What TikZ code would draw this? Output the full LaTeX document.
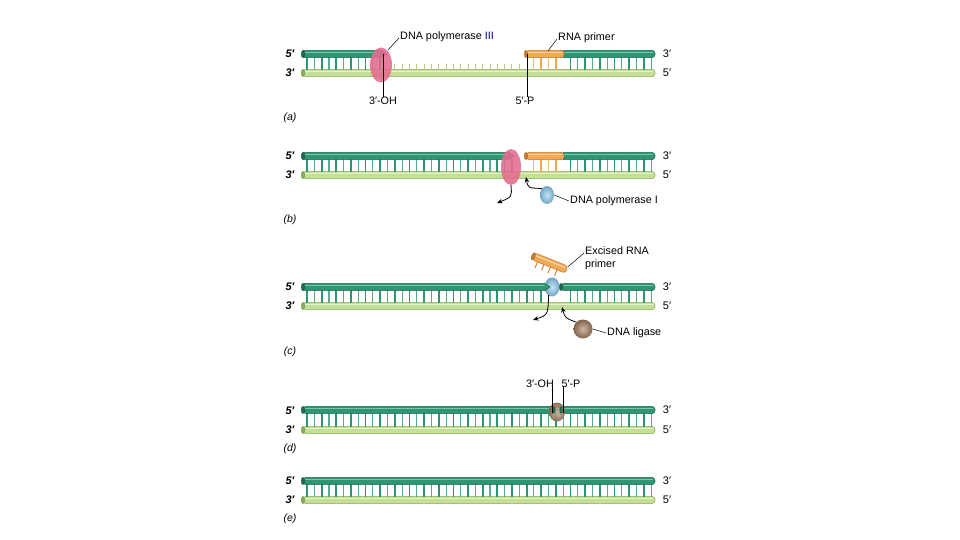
\documentclass[tikz,border=0pt]{standalone}
\usepackage{fontspec}
\setmainfont{Liberation Sans}
\usetikzlibrary{arrows.meta,shapes.geometric}
\definecolor{dkg}{HTML}{2E9672}
\definecolor{dkgE}{HTML}{1D6A4C}
\definecolor{dkgH}{HTML}{7CC7A4}
\definecolor{ltg}{HTML}{C3E096}
\definecolor{ltgE}{HTML}{86AE55}
\definecolor{ltgH}{HTML}{E6F3CE}
\definecolor{org}{HTML}{F2A955}
\definecolor{orgE}{HTML}{C77A2C}
\definecolor{orgH}{HTML}{F9D3A0}
\definecolor{pnk}{HTML}{E56A8F}
\definecolor{blu}{HTML}{84C3E8}
\definecolor{brn}{HTML}{A57C5D}
\definecolor{unp}{HTML}{B9CC82}
% strand with rounded right end: fill, edge, highlight, x1, x2, y
\newcommand\strandR[6]{%
  \path[fill=#1,draw=#2,line width=0.5pt,rounded corners=3pt] (#4,#6-3.6) rectangle (#5,#6+3.6);
  \draw[#3,line width=1.2pt,line cap=round] (#4+2,#6-1.5) -- (#5-2.5,#6-1.5);
  \path[fill=#2,draw=#2!80!black,line width=0.3pt] (#4,#6) ellipse (1.8 and 3.6);}
% strand with pointed right end
\newcommand\strandT[6]{%
  \path[fill=#1,draw=#2,line width=0.5pt] (#4,#6-3.6) -- (#5-5,#6-3.6) -- (#5,#6) -- (#5-5,#6+3.6) -- (#4,#6+3.6) -- cycle;
  \draw[#3,line width=1.2pt,line cap=round] (#4+2,#6-1.5) -- (#5-6,#6-1.5);
  \path[fill=#2,draw=#2!80!black,line width=0.3pt] (#4,#6) ellipse (1.8 and 3.6);}
% base ticks: xmin, xmax, ytop, ybot, colour
\newcommand\bases[5]{%
  \foreach \k in {0,...,47}{%
    \pgfmathsetmacro\xx{307+7.32*\k}%
    \pgfmathtruncatemacro\ok{((\xx>=#1)&&(\xx<=#2))?1:0}%
    \ifnum\ok=1
      \pgfmathtruncatemacro\odd{mod(\k,2)}%
      \ifnum\odd=0
        \draw[#5,line width=1.8pt] (\xx,#3+3) -- (\xx,#4-3.4);
      \else
        \draw[#5!80!white,line width=1.1pt] (\xx,#3+3) -- (\xx,#4-3.4);
      \fi
    \fi}}
% unpaired bases on the lower strand
\newcommand\unpaired[3]{%
  \foreach \k in {0,...,47}{%
    \pgfmathsetmacro\xx{307+7.32*\k}%
    \pgfmathtruncatemacro\ok{((\xx>=#1)&&(\xx<=#2))?1:0}%
    \ifnum\ok=1 \draw[unp,line width=1pt] (\xx,#3-3) -- (\xx,#3-8.5);\fi}}
\begin{document}
\begin{tikzpicture}[x=1pt,y=-1pt,
  font=\fontsize{10.8}{13}\selectfont,
  lbl/.style={inner sep=0pt},
  endlbl/.style={inner sep=0pt,font=\fontsize{11}{13}\selectfont},
  endlblL/.style={inner sep=0pt,font=\fontsize{11}{13}\selectfont\bfseries\itshape},
  plbl/.style={inner sep=0pt,font=\fontsize{10.5}{12}\selectfont\itshape},
  lead/.style={black,line width=0.5pt},
  endline/.style={black,line width=0.8pt},
  arr/.style={black,line width=0.8pt,-{Stealth[length=5.5pt,width=4.5pt]}},
  pinkblob/.style={ellipse,fill=pnk,opacity=0.88,inner sep=0pt},
  blueblob/.style={ellipse,inner color=blu!45!white,outer color=blu!85!black,inner sep=0pt},
  brownblob/.style={ellipse,inner color=brn!55!white,outer color=brn!80!black,inner sep=0pt}]
\useasboundingbox[fill=white] (0,0) rectangle (960,540);

% ---------------- (a) ----------------
\strandR{ltg}{ltgE}{ltgH}{303}{655}{73}
\bases{300}{383}{54}{73}{dkg}
\bases{528}{562}{54}{73}{org}
\bases{565}{655}{54}{73}{dkg}
\unpaired{388}{524}{73}
\strandT{dkg}{dkgE}{dkgH}{303}{387}{54}
\strandR{dkg}{dkgE}{dkgH}{561}{655}{54}
\strandR{org}{orgE}{orgH}{526}{564}{54}
\node[pinkblob,minimum width=22pt,minimum height=35pt] (pol3) at (381,65) {};
\coordinate (ohA) at (383,54);
\coordinate (pA) at (527,54);
\node[lbl] (ohAl) at (383,101) {3′-OH};
\node[lbl] (pAl) at (525,101) {5′-P};
\draw[endline] (ohA) -- (ohAl.north);
\draw[endline] (pA) -- (pAl.north -| pA);
\node[lbl,anchor=west] (pol3l) at (400,37) {DNA polymerase \textcolor{blue!60!black}{III}};
\node[lbl,anchor=west] (rnal) at (558,38) {RNA primer};
\coordinate (pol3t) at (388,50);
\coordinate (rnat) at (548,51);
\draw[lead] (pol3l.west) ++(-1,1) -- (pol3t);
\draw[lead] (rnal.west) ++(-1,1) -- (rnat);
\node[endlblL] (a5) at (290,54) {5′};
\node[endlblL] (a3) at (290,73) {3′};
\node[endlbl] (a3r) at (667,54) {3′};
\node[endlbl] (a5r) at (667,73) {5′};
\node[plbl] (pa) at (290,118) {(a)};

% ---------------- (b) ----------------
\strandR{ltg}{ltgE}{ltgH}{303}{655}{175}
\bases{300}{518}{156}{175}{dkg}
\bases{528}{562}{156}{175}{org}
\bases{565}{655}{156}{175}{dkg}
\strandT{dkg}{dkgE}{dkgH}{303}{514}{156}
\strandR{dkg}{dkgE}{dkgH}{561}{655}{156}
\strandR{org}{orgE}{orgH}{526}{564}{156}
\node[pinkblob,minimum width=20pt,minimum height=36pt] (pol3b) at (511,167) {};
\node[blueblob,minimum width=14pt,minimum height=18pt] (pol1) at (547,195) {};
\coordinate (gapb) at (526,177);
\coordinate (outb) at (497,203);
\draw[arr] (pol3b.south) .. controls (512,197) .. (outb);
\draw[arr] (pol1.north west) .. controls (528,188) .. (gapb);
\node[lbl,anchor=west] (pol1l) at (570,201) {DNA polymerase I};
\draw[lead] (pol1l.west) ++(-1,0) -- (pol1.east);
\node[endlblL] (b5) at (290,156) {5′};
\node[endlblL] (b3) at (290,175) {3′};
\node[endlbl] (b3r) at (667,156) {3′};
\node[endlbl] (b5r) at (667,175) {5′};
\node[plbl] (pb) at (290,220) {(b)};

% ---------------- (c) ----------------
\strandR{ltg}{ltgE}{ltgH}{303}{655}{306}
\bases{300}{546}{287}{306}{dkg}
\bases{565}{655}{287}{306}{dkg}
\node[blueblob,minimum width=15pt,minimum height=19pt] (pol1c) at (552,287) {};
\strandT{dkg}{dkgE}{dkgH}{303}{550}{287}
\strandR{dkg}{dkgE}{dkgH}{561}{655}{287}
% excised RNA primer
\begin{scope}[shift={(550,263)},rotate=-22]
  \foreach \t in {-12,-5,2,9}{\draw[orgE,line width=0.9pt] (\t,3) -- (\t,10);}
  \path[fill=org,draw=orgE,line width=0.5pt,rounded corners=3pt] (-18,-3.8) rectangle (18,3.8);
  \draw[orgH,line width=1.3pt,line cap=round] (-16,-1.5) -- (15.5,-1.5);
  \path[fill=orgE,draw=orgE!80!black,line width=0.3pt] (-18,0) ellipse (1.8 and 3.8);
  \coordinate (exc) at (18,-3);
\end{scope}
\node[lbl,anchor=north west,align=left] (excl) at (585,246) {Excised RNA\\primer};
\draw[lead] (584,253) -- (exc);
\node[brownblob,minimum width=19pt,minimum height=19pt] (lig) at (583,329) {};
\coordinate (gapc) at (562,307);
\coordinate (outc) at (533,320);
\draw[arr] (pol1c.south west) ++(2,1) .. controls (548,315) .. (outc);
\draw[arr] (lig.north west) .. controls (565,318) .. (gapc);
\node[lbl,anchor=west] (ligl) at (607,333) {DNA ligase};
\draw[lead] (ligl.west) ++(-1,0) -- (lig.east);
\node[endlblL] (c5) at (290,287) {5′};
\node[endlblL] (c3) at (290,306) {3′};
\node[endlbl] (c3r) at (667,287) {3′};
\node[endlbl] (c5r) at (667,306) {5′};
\node[plbl] (pc) at (290,352) {(c)};

% ---------------- (d) ----------------
\strandR{ltg}{ltgE}{ltgH}{303}{655}{430}
\bases{300}{655}{410}{430}{dkg}
\strandR{dkg}{dkgE}{dkgH}{303}{655}{410}
\node[brownblob,minimum width=16pt,minimum height=19pt,opacity=0.9] (ligd) at (557,412) {};
\path[fill=dkgE] (554,410) ellipse (1.4 and 3.6);
\path[fill=dkgE] (561,410) ellipse (1.4 and 3.6);
\node[lbl] (ohd) at (540,384) {3′-OH};
\node[lbl] (pd) at (571,384) {5′-P};
\coordinate (ohdt) at (552,413);
\coordinate (pdt) at (563,413);
\draw[lead] (ohdt |- ohd.south) ++(0,-2) -- (ohdt);
\draw[lead] (pdt |- pd.south) ++(0,-2) -- (pdt);
\node[endlblL] (d5) at (290,411) {5′};
\node[endlblL] (d3) at (290,430) {3′};
\node[endlbl] (d3r) at (667,410) {3′};
\node[endlbl] (d5r) at (667,430) {5′};
\node[plbl] (pd2) at (290,449) {(d)};

% ---------------- (e) ----------------
\strandR{ltg}{ltgE}{ltgH}{303}{655}{500}
\bases{300}{655}{481}{500}{dkg}
\strandR{dkg}{dkgE}{dkgH}{303}{655}{481}
\node[endlblL] (e5) at (290,481) {5′};
\node[endlblL] (e3) at (290,500) {3′};
\node[endlbl] (e3r) at (667,481) {3′};
\node[endlbl] (e5r) at (667,500) {5′};
\node[plbl] (pe) at (290,519) {(e)};
\end{tikzpicture}
\end{document}
